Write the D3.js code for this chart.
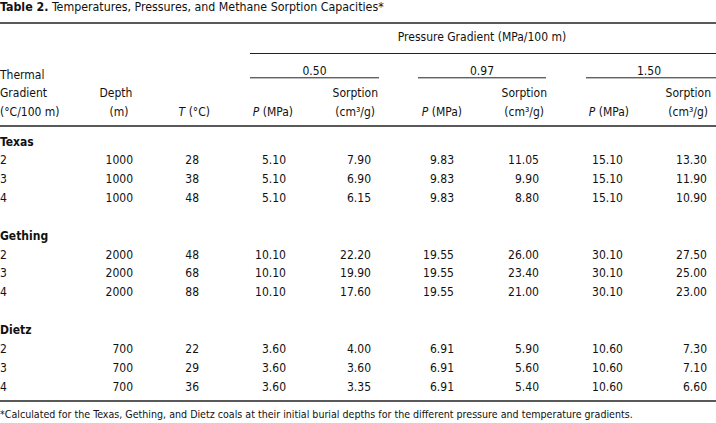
<!DOCTYPE html>
<html><head><meta charset="utf-8">
<script src="https://cdn.jsdelivr.net/npm/d3@7/dist/d3.min.js"></script>
<style>
body{margin:0;background:#fff;}
svg text{font-family:"DejaVu Sans Condensed","Liberation Sans Narrow",sans-serif;fill:#111;}
</style></head>
<body><svg id="t" width="716" height="423"></svg>
<script>
// ---- data ----
const coals = ["Texas", "Gething", "Dietz"];
const thermalGradients = ["2", "3", "4"];
const depths = [1000, 2000, 700];
const temperatures = [[28, 38, 48], [48, 68, 88], [22, 29, 36]];
const pressureGradients = ["0.50", "0.97", "1.50"];
// pressure per coal per pressure gradient
const pressures = [[5.10, 9.83, 15.10], [10.10, 19.55, 30.10], [3.60, 6.91, 10.60]];
// sorption per coal, per thermal gradient row, per pressure gradient
const sorptionTexas   = [[7.90, 11.05, 13.30], [6.90, 9.90, 11.90], [6.15, 8.80, 10.90]];
const sorptionGething = [[22.20, 26.00, 27.50], [19.90, 23.40, 25.00], [17.60, 21.00, 23.00]];
const sorptionDietz   = [[4.00, 5.90, 7.30], [3.60, 5.60, 7.10], [3.35, 5.40, 6.60]];
const sorptions = [sorptionTexas, sorptionGething, sorptionDietz];
const titleBold = "Table 2.";
const titleText = " Temperatures, Pressures, and Methane Sorption Capacities*";
const footnote = "*Calculated for the Texas, Gething, and Dietz coals at their initial burial depths for the different pressure and temperature gradients.";

// ---- layout ----
const svg = d3.select("#t");
const W = 716;
const fs = 12;
// column right edges for data
const colKeys = ["depth", "T", "P0", "S0", "P1", "S1", "P2", "S2"];
const colX = d3.scaleOrdinal().domain(colKeys).range([133, 199, 286, 371, 454, 539, 623, 707]);
const hdrX = d3.scaleOrdinal().domain(colKeys).range([129, 210, 293, 378, 462, 547, 629, 711]);
const rowY = d3.scaleLinear().domain([0, 13]).range([145.5, 390.5]);

// title
const tt = svg.append("text").attr("x", 0).attr("y", 10.5).style("font-size", "12.3px");
tt.append("tspan").attr("font-weight", "bold").text(titleBold);
tt.append("tspan").text(titleText);

// rules
function rule(x1, x2, y, w) {
  svg.append("line").attr("x1", x1).attr("x2", x2).attr("y1", y).attr("y2", y)
    .attr("stroke", "#222").attr("stroke-width", w);
}
rule(0, W, 23, 1.6);
rule(250, W, 53.5, 1);
const spanRanges = [[250, 379], [418, 546], [586, W]];
spanRanges.forEach(r => rule(r[0], r[1], 77.8, 1));
rule(0, W, 126, 1.3);
rule(0, W, 401, 1.3);

// header texts
function txt(x, y, s, anchor, opts) {
  const t = svg.append("text").attr("x", x).attr("y", y).attr("text-anchor", anchor || "start")
    .style("font-size", ((opts && opts.size) || fs) + "px");
  if (opts && opts.bold) t.attr("font-weight", "bold");
  return t.text(s);
}
txt(482, 41, "Pressure Gradient (MPa/100 m)", "middle");
pressureGradients.forEach((g, i) => {
  txt((spanRanges[i][0] + spanRanges[i][1]) / 2 + (i === 2 ? -2 : 0), 75, g, "middle");
});
txt(0, 79, "Thermal");
txt(0, 97, "Gradient");
txt(0, 115.5, "(\u00B0C/100 m)");
txt(116, 97, "Depth", "middle");
txt(119, 115.5, "(m)", "middle");
{
  const t = svg.append("text").attr("x", hdrX("T")).attr("y", 115.5).attr("text-anchor", "end").style("font-size", fs + "px");
  t.append("tspan").attr("font-style", "italic").text("T");
  t.append("tspan").text(" (\u00B0C)");
}
[0, 1, 2].forEach(i => {
  const t = svg.append("text").attr("x", hdrX("P" + i)).attr("y", 115.5).attr("text-anchor", "end").style("font-size", fs + "px");
  t.append("tspan").attr("font-style", "italic").text("P");
  t.append("tspan").text(" (MPa)");
  txt(hdrX("S" + i), 97, "Sorption", "end");
  txt(hdrX("S" + i) - 3, 115.5, "(cm\u00B3/g)", "end");
});

// body
const f2 = d3.format(".2f");
coals.forEach((c, ci) => {
  const base = ci * 5;
  txt(0, rowY(base), c, "start", {bold: true});
  thermalGradients.forEach((tg, ri) => {
    const y = rowY(base + 1 + ri);
    txt(0, y, tg);
    txt(colX("depth"), y, depths[ci], "end");
    txt(colX("T"), y, temperatures[ci][ri], "end");
    pressureGradients.forEach((pg, pi) => {
      txt(colX("P" + pi), y, f2(pressures[ci][pi]), "end");
      txt(colX("S" + pi), y, f2(sorptions[ci][ri][pi]), "end");
    });
  });
});

// footnote
txt(0, 418, footnote, "start", {size: 10.6});
</script></body></html>
